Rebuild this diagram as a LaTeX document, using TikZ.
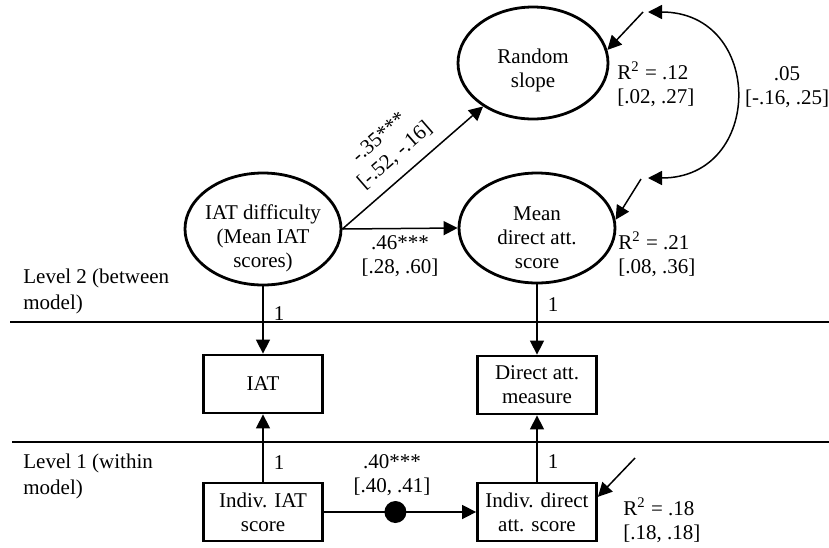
\documentclass[tikz,border=0pt]{standalone}
\usepackage{fontspec}
\setmainfont{Liberation Serif}
\usetikzlibrary{arrows.meta,shapes.geometric}

\begin{document}
\begin{tikzpicture}[x=0.5pt, y=-0.5pt,
  every node/.style={font=\fontsize{10.5}{12}\selectfont},
  latent/.style={draw, ellipse, line width=1.4pt, inner sep=0pt},
  ltext/.style={align=center},
  observed/.style={draw, rectangle, line width=1.4pt, minimum width=59.5pt,
    minimum height=29pt, align=center, inner sep=0pt},
  tip/.tip={Triangle[length=7pt,width=7pt]},
  path/.style={line width=0.75pt, -tip},
  covpath/.style={line width=0.75pt, tip-tip},
  sepline/.style={line width=0.7pt},
  dotnode/.style={circle, fill, inner sep=0pt, minimum size=11pt},
  rlabel/.style={anchor=west, align=left, inner sep=0pt},
  levellabel/.style={anchor=west, align=left, inner sep=0pt,
    font=\fontsize{10.5}{13}\selectfont},
  one/.style={right, inner sep=2pt, xshift=3pt}
]
\path[fill=white] (0,0) rectangle (829,547);
\useasboundingbox (0,0) rectangle (829,547);

% level separators
\coordinate (sepTwoA) at (10,322);
\coordinate (sepTwoB) at (829,322);
\coordinate (sepOneA) at (12,442);
\coordinate (sepOneB) at (829,442);
\draw[sepline] (sepTwoA) -- (sepTwoB);
\draw[sepline] (sepOneA) -- (sepOneB);

\node[levellabel] (lev2) at (23,291) {Level 2 (between\\model)};
\node[levellabel] (lev1) at (23,476) {Level 1 (within\\model)};

% level 2 latent variables
\node[latent, minimum width=75pt, minimum height=56pt,
  label={[name=rs-t, ltext, yshift=-3.75pt]center:Random\\slope}] (rs) at (533,63) {};
\node[latent, minimum width=78pt, minimum height=56pt,
  label={[name=diff-t, ltext, yshift=-4.5pt]center:IAT difficulty\\(Mean IAT\\scores)}] (diff) at (263,229) {};
\node[latent, minimum width=78pt, minimum height=55pt,
  label={[name=mean-t, ltext, yshift=-5pt]center:Mean\\direct att.\\score}] (mean) at (537,228) {};

% observed measures and level 1 scores
\node[observed] (iat) at (263,384) {IAT};
\node[observed] (dam) at (537,385) {Direct att.\\measure};
\node[observed] (iis) at (263,512) {Indiv. IAT\\score};
\node[observed] (ids) at (537,512) {Indiv. direct\\att. score};

% structural paths
\draw[path] (diff.east) -- node[sloped, above, pos=0.47, align=center, inner sep=5.5pt] (l35)
  {-.35***\\{[}-.52, -.16{]}} (rs);
\draw[path] (diff.east) -- node[below, align=center] (l46)
  {.46***\\{[}.28, .60{]}} (mean.west);

% loadings
\draw[path] (diff.south) -- node[one, pos=0.4] (ld1) {1} (iat.north);
\draw[path] (mean.south) -- node[one, pos=0.29] (ld2) {1} (dam.north);
\draw[path] (iis.north) -- node[one, pos=0.29] (ld3) {1} (iat.south);
\draw[path] (ids.north) -- node[one, pos=0.3] (ld4) {1} (dam.south);

% random slope path at level 1
\draw[path] (iis.east) -- node[dotnode, pos=0.47] (dot) {} (ids.west);
\node[align=center] (l40) at (392,475) {.40***\\{[}.40, .41{]}};

% residuals
\coordinate (rsres) at (643,12);
\coordinate (meanres) at (641,179);
\coordinate (idsres) at (635,458);
\draw[path] (rsres) -- (rs.10);
\draw[path] (meanres) -- (mean.6);
\draw[path] (idsres) -- (ids.14);

% residual covariance
\coordinate (cv1) at (648,12);
\coordinate (cv2) at (648,178);
\draw[covpath] (cv1) to[out=0, in=0, looseness=1.8] (cv2);
\node[align=center] (cov) at (787,87) {.05\\{[}-.16, .25{]}};

% explained variance
\node[rlabel] (r2rs) at (617,84.5) {R\textsuperscript{2} = .12\\{[}.02, .27{]}};
\node[rlabel] (r2mean) at (618,254.5) {R\textsuperscript{2} = .21\\{[}.08, .36{]}};
\node[rlabel] (r2ids) at (623,520) {R\textsuperscript{2} = .18\\{[}.18, .18{]}};
\end{tikzpicture}
\end{document}
